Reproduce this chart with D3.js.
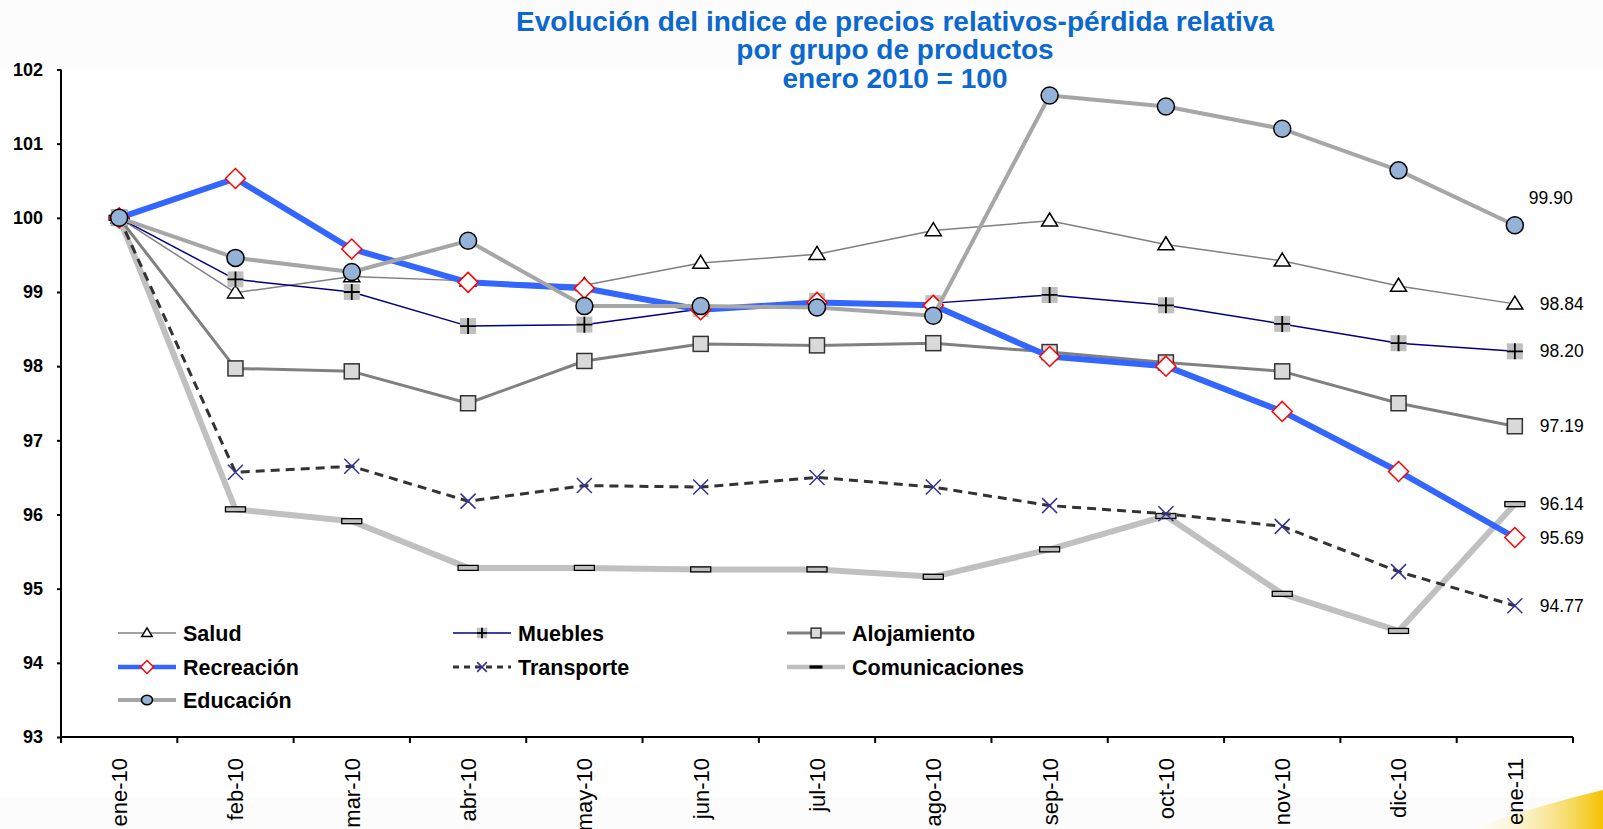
<!DOCTYPE html>
<html><head><meta charset="utf-8">
<script src="https://cdn.jsdelivr.net/npm/d3@7"></script>
<style>
html,body{margin:0;padding:0;background:#fcfcfc;}
svg{display:block;font-family:"Liberation Sans",Arial,sans-serif;}
</style></head>
<body>
<svg id="chart" width="1603" height="829"></svg>
<script>
const months = ["ene-10","feb-10","mar-10","abr-10","may-10","jun-10","jul-10","ago-10","sep-10","oct-10","nov-10","dic-10","ene-11"];
const yTicks = [93,94,95,96,97,98,99,100,101,102];
const salud = [100, 98.99, 99.21, 99.15, 99.09, 99.39, 99.51, 99.83, 99.96, 99.64, 99.42, 99.08, 98.84];
const muebles = [100, 99.17, 99.00, 98.54, 98.56, 98.77, 98.88, 98.85, 98.96, 98.82, 98.57, 98.31, 98.20];
const alojamiento = [100, 97.97, 97.93, 97.50, 98.07, 98.30, 98.28, 98.31, 98.19, 98.05, 97.93, 97.50, 97.19];
const recreacion = [100, 100.53, 99.58, 99.13, 99.05, 98.76, 98.86, 98.82, 98.13, 98.00, 97.39, 96.58, 95.69];
const transporte = [100, 96.57, 96.65, 96.18, 96.39, 96.37, 96.50, 96.37, 96.12, 96.01, 95.84, 95.23, 94.77];
const comunicaciones = [100, 96.07, 95.91, 95.28, 95.28, 95.26, 95.26, 95.16, 95.53, 95.98, 94.93, 94.43, 96.14];
const educacion = [100, 99.46, 99.27, 99.69, 98.81, 98.81, 98.79, 98.68, 101.65, 101.50, 101.20, 100.64, 99.90];
const titleLines = ["Evolución del indice de precios relativos-pérdida relativa","por grupo de productos","enero 2010 = 100"];

const series = [
  {name:"Salud", values:salud, color:"#808080", width:1.5, dash:null, marker:"triangle"},
  {name:"Muebles", values:muebles, color:"#000080", width:1.5, dash:null, marker:"plus"},
  {name:"Alojamiento", values:alojamiento, color:"#808080", width:3, dash:null, marker:"square"},
  {name:"Recreación", values:recreacion, color:"#3366ff", width:6, dash:null, marker:"diamond"},
  {name:"Transporte", values:transporte, color:"#333333", width:3, dash:"9,6", marker:"x"},
  {name:"Comunicaciones", values:comunicaciones, color:"#c0c0c0", width:6, dash:null, marker:"dash"},
  {name:"Educación", values:educacion, color:"#a6a6a6", width:4, dash:null, marker:"circle"}
];
const drawOrder = ["Comunicaciones","Transporte","Alojamiento","Salud","Muebles","Recreación","Educación"];

const svg = d3.select("#chart");
const L = 61, R = 1573, T = 69.5, B = 737;

// background decoration
const defs = svg.append("defs");
const grad = defs.append("linearGradient").attr("id","sw").attr("x1","0").attr("x2","1").attr("y1","0").attr("y2","0");
grad.append("stop").attr("offset","0").attr("stop-color","#fff6c8").attr("stop-opacity",0);
grad.append("stop").attr("offset","1").attr("stop-color","#f2c200").attr("stop-opacity",1);
svg.append("rect").attr("x",0).attr("y",T).attr("width",1603).attr("height",B-T+60).attr("fill","#ffffff");
svg.append("path").attr("d","M1470,829 Q1540,805 1603,790 L1603,829 Z").attr("fill","url(#sw)");

const x = d3.scaleBand().domain(months).range([L,R]).padding(0);
const y = d3.scaleLinear().domain([93,102]).range([B,T]);
const cx = m => x(m) + x.bandwidth()/2;

// title
svg.append("g").selectAll("text").data(titleLines).join("text")
  .attr("x",895).attr("y",(d,i)=>30.5+i*28.5)
  .attr("text-anchor","middle").attr("font-size",28).attr("font-weight","bold")
  .attr("fill","#0a68cf").text(d=>d);

// y axis
const yAxis = svg.append("g").attr("transform",`translate(${L},0)`)
  .call(d3.axisLeft(y).tickValues(yTicks).tickSize(4).tickPadding(14).tickFormat(d3.format("d")));
yAxis.select(".domain").attr("stroke","#000").attr("stroke-width",2).attr("d",`M0,${T}V${B}`);
yAxis.selectAll(".tick line").attr("stroke","#000").attr("stroke-width",2);
yAxis.selectAll(".tick text").attr("font-size",18).attr("font-weight","bold").attr("fill","#000")
  .attr("font-family","'Liberation Sans',Arial,sans-serif");

// x axis
const xAxis = svg.append("g").attr("transform",`translate(0,${B})`)
  .call(d3.axisBottom(x).tickSize(0).tickPadding(0));
xAxis.select(".domain").attr("stroke","#000").attr("stroke-width",2).attr("d",`M${L},0H${R}`);
xAxis.selectAll(".tick text").attr("font-size",22).attr("fill","#000")
  .attr("font-family","'Liberation Sans',Arial,sans-serif")
  .attr("transform","rotate(-90)").attr("text-anchor","end").attr("dy","0.36em")
  .attr("x",-21).attr("y",0);
const bounds = months.map(m=>x(m)).concat([R]);
xAxis.selectAll("line.bt").data(bounds).join("line").attr("class","bt")
  .attr("x1",d=>d).attr("x2",d=>d).attr("y1",0).attr("y2",6)
  .attr("stroke","#000").attr("stroke-width",2);

function drawMarker(g, type, px, py, s){
  if(type==="triangle"){
    const w=8*s, h=13*s;
    g.append("path").attr("d",`M${px},${py-h*0.6}L${px+w},${py+h*0.4}L${px-w},${py+h*0.4}Z`)
      .attr("fill","#fff").attr("stroke","#000").attr("stroke-width",1.5);
  } else if(type==="plus"){
    const a=8*s;
    g.append("rect").attr("x",px-a).attr("y",py-a).attr("width",2*a).attr("height",2*a).attr("fill","#c0c0c0");
    g.append("path").attr("d",`M${px-a},${py}H${px+a}M${px},${py-a}V${py+a}`).attr("stroke","#000").attr("stroke-width",1.8);
  } else if(type==="square"){
    const a=7.5*s;
    g.append("rect").attr("x",px-a).attr("y",py-a).attr("width",2*a).attr("height",2*a)
      .attr("fill","#d9d9d9").attr("stroke","#333").attr("stroke-width",1.5);
  } else if(type==="diamond"){
    const a=10*s;
    g.append("path").attr("d",`M${px},${py-a}L${px+a},${py}L${px},${py+a}L${px-a},${py}Z`)
      .attr("fill","#fff").attr("stroke","#ff0000").attr("stroke-width",1.5);
  } else if(type==="x"){
    const a=7.5*s;
    g.append("path").attr("d",`M${px-a},${py-a}L${px+a},${py+a}M${px-a},${py+a}L${px+a},${py-a}`)
      .attr("stroke","#333399").attr("stroke-width",1.5);
  } else if(type==="dash"){
    const w=10*s, h=2.5*s;
    g.append("rect").attr("x",px-w).attr("y",py-h).attr("width",2*w).attr("height",2*h)
      .attr("fill", s<1 ? "#000" : "#c0c0c0").attr("stroke","#000").attr("stroke-width",s<1?0:1.3);
  } else if(type==="circle"){
    g.append("ellipse").attr("cx",px).attr("cy",py).attr("rx",8.5*s).attr("ry",8.5*s*(s<1?0.85:1))
      .attr("fill","#95b3d7").attr("stroke","#000").attr("stroke-width",1.5);
  }
}

const line = d3.line().x((d,i)=>cx(months[i])).y(d=>y(d));
const plot = svg.append("g");
drawOrder.forEach(nm=>{
  const s = series.find(d=>d.name===nm);
  const g = plot.append("g");
  g.append("path").attr("d",line(s.values)).attr("fill","none")
    .attr("stroke",s.color).attr("stroke-width",s.width)
    .attr("stroke-dasharray",s.dash).attr("stroke-linejoin","round").attr("stroke-linecap",s.dash?"butt":"round");
  s.values.forEach((v,i)=>drawMarker(g, s.marker, cx(months[i]), y(v), 1));
});

// end labels
const labelG = svg.append("g");
series.forEach(s=>{
  const v = s.values[s.values.length-1];
  const px = cx(months[months.length-1]);
  const isTop = s.name==="Educación";
  labelG.append("text")
    .attr("x", isTop ? px+14 : px+25)
    .attr("y", isTop ? y(v)-27 : y(v))
    .attr("dy","0.35em").attr("font-size",17.5).attr("fill","#000")
    .text(v.toFixed(2));
});

// legend
const legCols = [118, 453, 787];
const legRows = [633, 667, 700];
const leg = svg.append("g");
series.forEach((s,i)=>{
  const col = legCols[i%3], row = legRows[Math.floor(i/3)];
  const g = leg.append("g");
  g.append("line").attr("x1",col).attr("x2",col+58).attr("y1",row).attr("y2",row)
    .attr("stroke",s.color).attr("stroke-width",Math.min(s.width,4.5)).attr("stroke-dasharray",s.dash?"6,5":null);
  drawMarker(g, s.marker, col+29, row, 0.65);
  g.append("text").attr("x",col+65).attr("y",row).attr("dy","0.36em")
    .attr("font-size",21.5).attr("font-weight","bold").attr("fill","#000").text(s.name);
});
</script>
</body></html>
